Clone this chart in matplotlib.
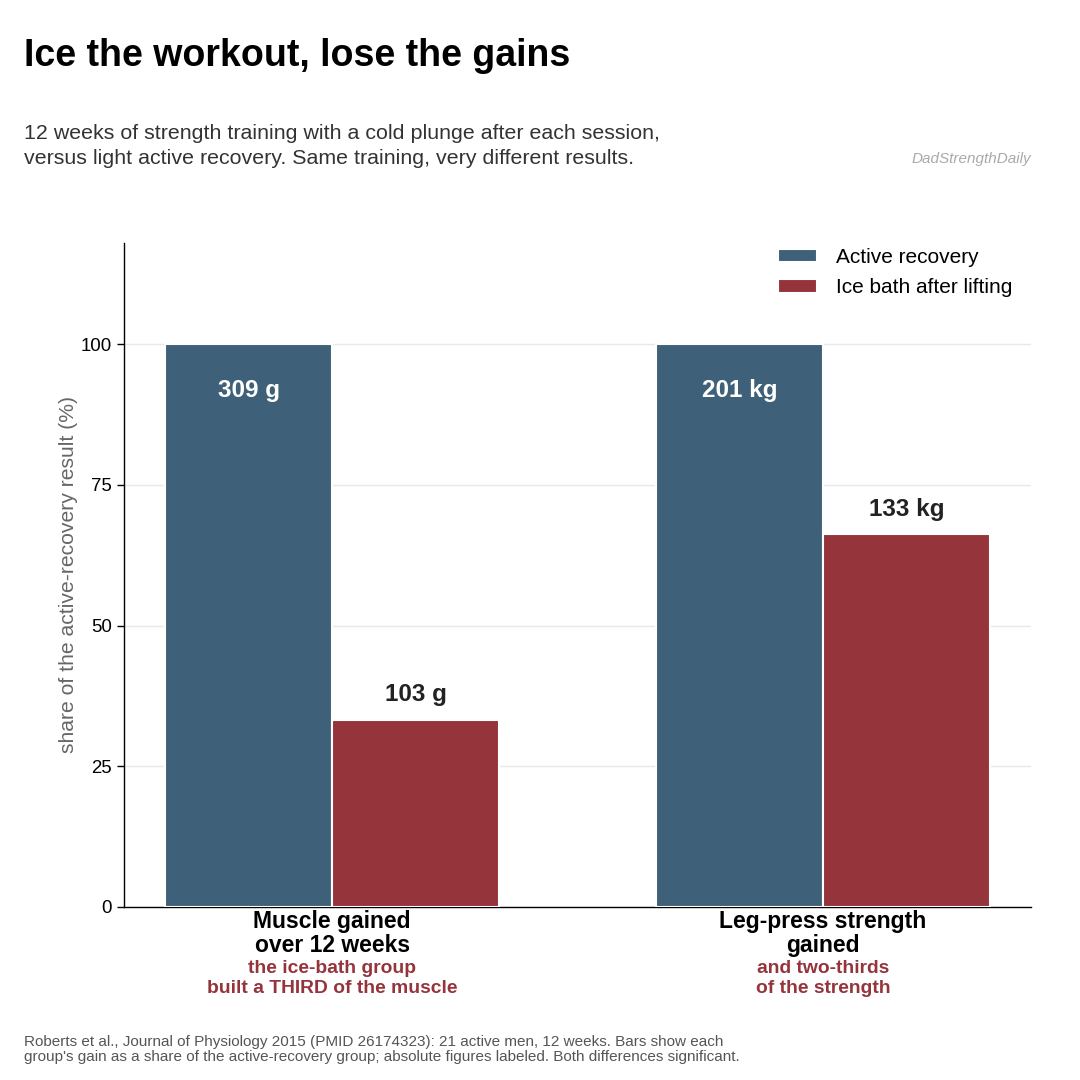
import matplotlib
matplotlib.use("Agg")
import matplotlib.pyplot as plt
import numpy as np

plt.rcParams['font.family'] = ['Liberation Sans', 'DejaVu Sans']

categories = ["Muscle gained\nover 12 weeks", "Leg-press strength\ngained"]
subnotes = ["the ice-bath group\nbuilt a THIRD of the muscle", "and two-thirds\nof the strength"]
series_names = ["Active recovery", "Ice bath after lifting"]
active_share = [100, 100]
ice_share = [33.3, 66.2]
active_labels = ["309 g", "201 kg"]
ice_labels = ["103 g", "133 kg"]
yticks = [0, 25, 50, 75, 100]

BLUE = "#3e6179"
RED = "#96343c"

fig = plt.figure(figsize=(10.8, 10.8), dpi=100)
ax = fig.add_axes([0.1148, 0.1602, 0.8398, 0.6148])

x = np.arange(len(categories))
w = 0.34
b1 = ax.bar(x - w / 2, active_share, w, color=BLUE, edgecolor="white", linewidth=1.5,
            label=series_names[0], zorder=3)
b2 = ax.bar(x + w / 2, ice_share, w, color=RED, edgecolor="white", linewidth=1.5,
            label=series_names[1], zorder=3)

for rect, lab in zip(b1, active_labels):
    ax.annotate(lab, (rect.get_x() + rect.get_width() / 2, rect.get_height()),
                xytext=(0, -33.5), textcoords="offset points", ha="center", va="center",
                color="white", fontsize=17.5, fontweight="bold", zorder=4)
for rect, lab in zip(b2, ice_labels):
    ax.annotate(lab, (rect.get_x() + rect.get_width() / 2, rect.get_height()),
                xytext=(0, 18), textcoords="offset points", ha="center", va="center",
                color="#222222", fontsize=17.5, fontweight="bold", zorder=4)

ax.set_xlim(-0.424, 1.424)
ax.set_ylim(0, 118)
ax.set_yticks(yticks)
ax.set_yticklabels([str(t) for t in yticks], fontsize=13.4)
ax.yaxis.grid(True, color="#e8e8e8", linewidth=1, zorder=0)
ax.set_axisbelow(True)
ax.set_xticks(x)
ax.set_xticklabels(categories, fontsize=16.5, fontweight="bold", linespacing=1.05)
ax.tick_params(axis="x", length=0, pad=2)
ax.tick_params(axis="y", length=5, width=1, colors="black")
for s in ["top", "right"]:
    ax.spines[s].set_visible(False)
for s in ["left", "bottom"]:
    ax.spines[s].set_color("black")
    ax.spines[s].set_linewidth(1)

for xi, note in zip(x, subnotes):
    ax.annotate(note, (xi, 0), xycoords=("data", "axes fraction"),
                xytext=(0, -38), textcoords="offset points", ha="center", va="top",
                color=RED, fontsize=13.9, fontweight="bold", linespacing=1.25)

ax.set_ylabel("share of the active-recovery result (%)", fontsize=15.2, color="#666666", labelpad=2)

leg = ax.legend(loc="upper right", bbox_to_anchor=(1.0, 1.021), frameon=False, fontsize=15,
                handlelength=1.9, handleheight=0.65, labelspacing=0.55, handletextpad=0.9)

fig.text(0.022, 0.965, "Ice the workout, lose the gains", fontsize=27, fontweight="bold",
         ha="left", va="top", color="black")
fig.text(0.022, 0.885, "12 weeks of strength training with a cold plunge after each session,\n"
         "versus light active recovery. Same training, very different results.",
         fontsize=15.4, ha="left", va="top", color="#333333", linespacing=1.39)
fig.text(0.9546, 0.853, "DadStrengthDaily", fontsize=11, style="italic", color="#aaaaaa",
         ha="right", va="center")
fig.text(0.022, 0.0413, "Roberts et al., Journal of Physiology 2015 (PMID 26174323): 21 active men, 12 weeks. "
         "Bars show each\ngroup's gain as a share of the active-recovery group; absolute figures labeled. "
         "Both differences significant.",
         fontsize=11, ha="left", va="top", color="#555555", linespacing=1.05)

fig.savefig("out.png", dpi=100)
